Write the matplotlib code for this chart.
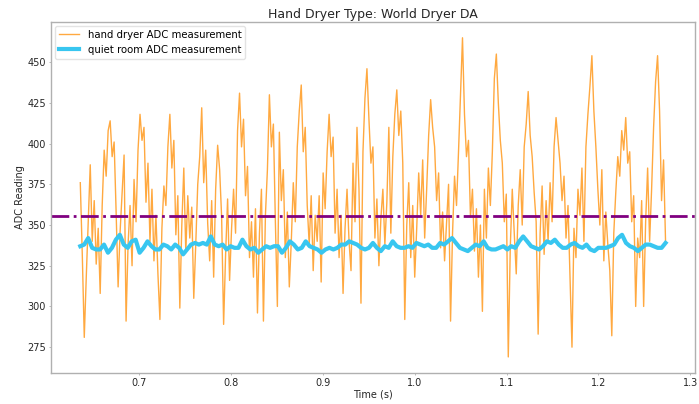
import numpy as np
import matplotlib.pyplot as plt

# =============================
# Data
# =============================

t_start = 0.636
t_end = 1.273

dryer_adc = [
    376, 332, 281, 318, 352, 387, 340, 365, 326, 348,
    308, 362, 396, 380, 408, 414, 392, 401, 358, 312,
    346, 370, 393, 291, 338, 362, 325, 378, 352, 396,
    418, 402, 410, 364, 388, 340, 372, 328, 356, 320,
    292, 348, 374, 362, 398, 418, 385, 402, 344, 368,
    299, 350, 385, 333, 368, 342, 361, 305, 338, 375,
    392, 422, 376, 396, 351, 328, 365, 318, 372, 399,
    384, 355, 289, 332, 366, 316, 348, 372, 345, 408,
    431, 398, 415, 368, 386, 330, 352, 318, 360, 296,
    345, 372, 291, 356, 384, 430, 398, 412, 352, 300,
    407, 365, 384, 330, 358, 312, 340, 376, 352, 398,
    420, 436, 395, 410, 362, 338, 368, 322, 356, 340,
    368, 315, 382, 360, 395, 418, 392, 404, 345, 372,
    330, 356, 308, 348, 372, 340, 322, 388, 352, 410,
    372, 302, 395, 428, 446, 415, 388, 398, 342, 366,
    325, 354, 372, 338, 364, 410, 345, 392, 418, 433,
    405, 420, 388, 292, 350, 376, 330, 362, 318, 348,
    382, 356, 390, 342, 372, 405, 427, 410, 398, 365,
    382, 336, 358, 328, 352, 375, 291, 345, 380, 362,
    395, 430, 465, 418, 392, 402, 355, 372, 334, 360,
    318, 350, 297, 372, 342, 385, 362, 395, 440, 455,
    425, 402, 388, 352, 369, 269, 336, 372, 345, 320,
    362, 384, 350, 398, 412, 432, 405, 392, 370, 352,
    283, 345, 374, 332, 365, 340, 376, 352, 398, 416,
    402, 388, 365, 380, 342, 362, 318, 275, 348, 330,
    372, 356, 385, 340, 398, 418, 435, 454, 420, 398,
    372, 350, 384, 328, 358, 338, 322, 282, 345, 370,
    392, 380, 408, 396, 416, 388, 395, 352, 368, 300,
    342, 330, 365, 300, 352, 385, 340, 372, 410, 438,
    454, 420, 365, 390, 340,
]

quiet_adc = [
    337, 338, 342, 336, 335, 335, 338, 333, 336, 341,
    344, 338, 336, 340, 341, 333, 336, 340, 337, 335,
    335, 338, 337, 335, 338, 336, 332, 335, 338, 339,
    338, 339, 338, 343, 338, 337, 338, 335, 337, 336,
    336, 341, 337, 335, 336, 333, 335, 337, 336, 337,
    337, 333, 336, 340, 338, 335, 336, 340, 337, 336,
    335, 333, 335, 336, 335, 336, 338, 338, 340, 339,
    338, 336, 335, 336, 339, 336, 334, 337, 336, 340,
    337, 336, 336, 337, 336, 339, 338, 337, 338, 336,
    336, 339, 338, 340, 342, 339, 336, 335, 334, 336,
    338, 337, 340, 336, 335, 335, 336, 337, 335, 337,
    336, 340, 343, 340, 337, 336, 335, 337, 340, 339,
    341, 338, 336, 336, 338, 339, 337, 336, 338, 335,
    334, 336, 336, 336, 337, 338, 342, 344, 339, 337,
    336, 334, 336, 338, 338, 337, 336, 336, 339,
]

threshold = 355.5

t_dryer = np.linspace(t_start, t_end, len(dryer_adc))
t_quiet = np.linspace(t_start, t_end, len(quiet_adc))

# =============================
# Plot
# =============================

fig = plt.figure(figsize=(6.99, 4.04), dpi=100)
ax = fig.add_axes([0.073, 0.077, 0.921, 0.869])

ax.plot(t_dryer, dryer_adc, color="darkorange", alpha=0.75, lw=1.0,
        label="hand dryer ADC measurement")
ax.plot(t_quiet, quiet_adc, color="#38c6f0", lw=3,
        label="quiet room ADC measurement")
ax.axhline(y=threshold, color="purple", ls="-.", lw=2)

ax.set_title("Hand Dryer Type: World Dryer DA", fontsize=9, color="#262626", pad=3)
ax.set_xlabel("Time (s)", fontsize=7, color="#262626", labelpad=1)
ax.set_ylabel("ADC Reading", fontsize=7, color="#262626", labelpad=2)

ax.set_yticks([275, 300, 325, 350, 375, 400, 425, 450])
ax.tick_params(length=1.5, width=0.6, labelsize=7, color="#b0b0b0",
               labelcolor="#262626", pad=2)

for s in ax.spines.values():
    s.set_color("#b0b0b0")
    s.set_linewidth(1)

leg = ax.legend(loc="upper left", fontsize=7.3, frameon=True, borderaxespad=0.4)
leg.get_frame().set_edgecolor("#dddddd")

fig.savefig("out.png", dpi=100)
